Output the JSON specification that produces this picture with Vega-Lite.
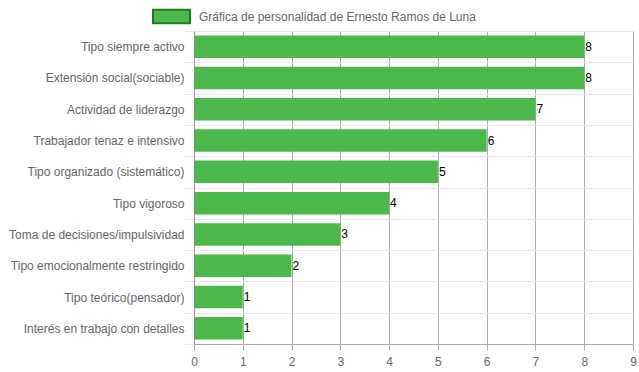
{
  "$schema": "https://vega.github.io/schema/vega-lite/v6.json",
  "width": 439,
  "height": 313,
  "autosize": {"type": "none"},
  "padding": {"left": 194, "top": 31, "right": 6, "bottom": 28},
  "background": "white",
  "config": {
    "view": {"stroke": null},
    "font": "Liberation Sans",
    "axis": {"labelFont": "Liberation Sans", "labelFontSize": 12, "labelColor": "#666666"}
  },
  "data": {
    "values": [
      {"rasgo": "Tipo siempre activo", "valor": 8, "serie": "Gráfica de personalidad de Ernesto Ramos de Luna"},
      {"rasgo": "Extensión social(sociable)", "valor": 8, "serie": "Gráfica de personalidad de Ernesto Ramos de Luna"},
      {"rasgo": "Actividad de liderazgo", "valor": 7, "serie": "Gráfica de personalidad de Ernesto Ramos de Luna"},
      {"rasgo": "Trabajador tenaz e intensivo", "valor": 6, "serie": "Gráfica de personalidad de Ernesto Ramos de Luna"},
      {"rasgo": "Tipo organizado (sistemático)", "valor": 5, "serie": "Gráfica de personalidad de Ernesto Ramos de Luna"},
      {"rasgo": "Tipo vigoroso", "valor": 4, "serie": "Gráfica de personalidad de Ernesto Ramos de Luna"},
      {"rasgo": "Toma de decisiones/impulsividad", "valor": 3, "serie": "Gráfica de personalidad de Ernesto Ramos de Luna"},
      {"rasgo": "Tipo emocionalmente restringido", "valor": 2, "serie": "Gráfica de personalidad de Ernesto Ramos de Luna"},
      {"rasgo": "Tipo teórico(pensador)", "valor": 1, "serie": "Gráfica de personalidad de Ernesto Ramos de Luna"},
      {"rasgo": "Interés en trabajo con detalles", "valor": 1, "serie": "Gráfica de personalidad de Ernesto Ramos de Luna"}
    ]
  },
  "encoding": {
    "y": {
      "field": "rasgo",
      "type": "nominal",
      "sort": null,
      "scale": {"paddingInner": 0, "paddingOuter": 0},
      "axis": {
        "title": null,
        "tickBand": "extent",
        "grid": true,
        "gridColor": "#e8e8e8",
        "ticks": true,
        "tickColor": "#e8e8e8",
        "tickSize": 10,
        "labelPadding": 0,
        "domain": true,
        "domainColor": "#999999",
        "labelLimit": 200
      }
    },
    "x": {
      "field": "valor",
      "type": "quantitative",
      "scale": {"domain": [0, 9], "nice": false},
      "axis": {
        "title": null,
        "values": [0, 1, 2, 3, 4, 5, 6, 7, 8, 9],
        "grid": true,
        "gridColor": "#aaaaaa",
        "tickColor": "#aaaaaa",
        "tickSize": 6,
        "labelPadding": 6,
        "domainColor": "#aaaaaa",
        "labelFlush": false
      }
    }
  },
  "layer": [
    {
      "mark": {"type": "bar", "height": {"band": 0.72}},
      "encoding": {
        "color": {
          "field": "serie",
          "type": "nominal",
          "scale": {"range": ["#4CB84C"]},
          "legend": {
            "title": null,
            "orient": "none",
            "legendX": -42,
            "legendY": -34,
            "symbolType": "M-1,-0.36H1V0.36H-1Z",
            "symbolSize": 1369,
            "symbolStrokeColor": "#1E7B1E",
            "symbolStrokeWidth": 2,
            "symbolOpacity": 1,
            "labelFont": "Liberation Sans",
            "labelFontSize": 12,
            "labelColor": "#666666",
            "labelOffset": 8,
            "padding": 0,
            "labelLimit": 400
          }
        }
      }
    },
    {
      "mark": {"type": "text", "align": "left", "baseline": "middle", "dx": 1, "fontSize": 12, "font": "Liberation Sans", "color": "#000000"},
      "encoding": {"text": {"field": "valor", "type": "quantitative"}}
    }
  ]
}
